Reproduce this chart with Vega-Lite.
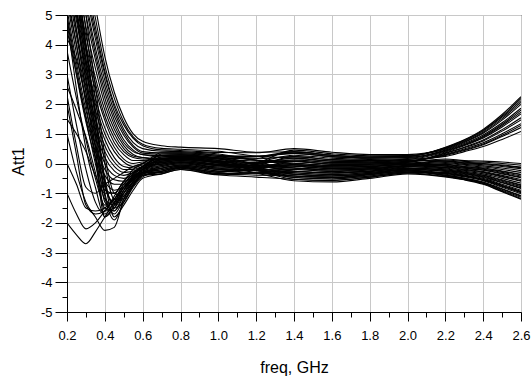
{
"$schema":"https://vega.github.io/schema/vega-lite/v6.json",
"width":454,"height":297,
"autosize":{"type":"none"},
"padding":{"left":67,"top":15,"right":10,"bottom":68},
"background":"white",
"config":{"view":{"stroke":"black","strokeWidth":1},"font":"Liberation Sans"},
"data":{"values":[
{"c":"A1","f":0.2,"v":12},{"c":"A1","f":0.25,"v":9.5},{"c":"A1","f":0.3,"v":7.2},{"c":"A1","f":0.35,"v":5.3},{"c":"A1","f":0.4,"v":3.6},{"c":"A1","f":0.45,"v":2.4},{"c":"A1","f":0.5,"v":1.55},{"c":"A1","f":0.55,"v":1.0},{"c":"A1","f":0.6,"v":0.75},{"c":"A1","f":0.7,"v":0.6},{"c":"A1","f":0.8,"v":0.55},{"c":"A1","f":1.0,"v":0.5},{"c":"A1","f":1.2,"v":0.38},{"c":"A1","f":1.4,"v":0.39},{"c":"A1","f":1.6,"v":0.28},{"c":"A1","f":1.8,"v":0.22},{"c":"A1","f":2.0,"v":0.24},{"c":"A1","f":2.2,"v":0.55},{"c":"A1","f":2.3,"v":0.8},{"c":"A1","f":2.4,"v":1.15},{"c":"A1","f":2.5,"v":1.65},{"c":"A1","f":2.6,"v":2.25},
{"c":"A2","f":0.2,"v":11},{"c":"A2","f":0.25,"v":8.8},{"c":"A2","f":0.3,"v":6.6},{"c":"A2","f":0.35,"v":4.9},{"c":"A2","f":0.4,"v":3.3},{"c":"A2","f":0.45,"v":2.2},{"c":"A2","f":0.5,"v":1.4},{"c":"A2","f":0.55,"v":0.9},{"c":"A2","f":0.6,"v":0.65},{"c":"A2","f":0.7,"v":0.51},{"c":"A2","f":0.8,"v":0.48},{"c":"A2","f":1.0,"v":0.41},{"c":"A2","f":1.2,"v":0.25},{"c":"A2","f":1.4,"v":0.18},{"c":"A2","f":1.6,"v":0.08},{"c":"A2","f":1.8,"v":0.06},{"c":"A2","f":2.0,"v":0.11},{"c":"A2","f":2.2,"v":0.09},{"c":"A2","f":2.3,"v":0.04},{"c":"A2","f":2.4,"v":0.0},{"c":"A2","f":2.5,"v":-0.05},{"c":"A2","f":2.6,"v":-0.12},
{"c":"A3","f":0.2,"v":11},{"c":"A3","f":0.25,"v":8.5},{"c":"A3","f":0.3,"v":6.3},{"c":"A3","f":0.35,"v":4.6},{"c":"A3","f":0.4,"v":3.1},{"c":"A3","f":0.45,"v":2.0},{"c":"A3","f":0.5,"v":1.3},{"c":"A3","f":0.55,"v":0.85},{"c":"A3","f":0.6,"v":0.6},{"c":"A3","f":0.7,"v":0.46},{"c":"A3","f":0.8,"v":0.44},{"c":"A3","f":1.0,"v":0.37},{"c":"A3","f":1.2,"v":0.36},{"c":"A3","f":1.4,"v":0.5},{"c":"A3","f":1.6,"v":0.38},{"c":"A3","f":1.8,"v":0.3},{"c":"A3","f":2.0,"v":0.3},{"c":"A3","f":2.2,"v":0.5},{"c":"A3","f":2.3,"v":0.73},{"c":"A3","f":2.4,"v":1.05},{"c":"A3","f":2.5,"v":1.51},{"c":"A3","f":2.6,"v":2.06},
{"c":"A4","f":0.2,"v":10},{"c":"A4","f":0.25,"v":8},{"c":"A4","f":0.3,"v":6},{"c":"A4","f":0.35,"v":4.4},{"c":"A4","f":0.4,"v":3.0},{"c":"A4","f":0.45,"v":1.9},{"c":"A4","f":0.5,"v":1.15},{"c":"A4","f":0.55,"v":0.7},{"c":"A4","f":0.6,"v":0.5},{"c":"A4","f":0.7,"v":0.41},{"c":"A4","f":0.8,"v":0.4},{"c":"A4","f":1.0,"v":0.32},{"c":"A4","f":1.2,"v":0.11},{"c":"A4","f":1.4,"v":-0.04},{"c":"A4","f":1.6,"v":-0.12},{"c":"A4","f":1.8,"v":-0.1},{"c":"A4","f":2.0,"v":-0.03},{"c":"A4","f":2.2,"v":-0.09},{"c":"A4","f":2.3,"v":-0.16},{"c":"A4","f":2.4,"v":-0.23},{"c":"A4","f":2.5,"v":-0.35},{"c":"A4","f":2.6,"v":-0.48},
{"c":"A5","f":0.2,"v":10},{"c":"A5","f":0.25,"v":7.8},{"c":"A5","f":0.3,"v":5.8},{"c":"A5","f":0.35,"v":4.2},{"c":"A5","f":0.4,"v":2.8},{"c":"A5","f":0.45,"v":1.75},{"c":"A5","f":0.5,"v":1.05},{"c":"A5","f":0.55,"v":0.6},{"c":"A5","f":0.6,"v":0.4},{"c":"A5","f":0.7,"v":0.36},{"c":"A5","f":0.8,"v":0.36},{"c":"A5","f":1.0,"v":0.28},{"c":"A5","f":1.2,"v":0.25},{"c":"A5","f":1.4,"v":0.34},{"c":"A5","f":1.6,"v":0.23},{"c":"A5","f":1.8,"v":0.18},{"c":"A5","f":2.0,"v":0.2},{"c":"A5","f":2.2,"v":0.45},{"c":"A5","f":2.3,"v":0.67},{"c":"A5","f":2.4,"v":0.96},{"c":"A5","f":2.5,"v":1.37},{"c":"A5","f":2.6,"v":1.86},
{"c":"A6","f":0.2,"v":9.5},{"c":"A6","f":0.25,"v":7.4},{"c":"A6","f":0.3,"v":5.5},{"c":"A6","f":0.35,"v":3.9},{"c":"A6","f":0.4,"v":2.6},{"c":"A6","f":0.45,"v":1.6},{"c":"A6","f":0.5,"v":0.95},{"c":"A6","f":0.55,"v":0.55},{"c":"A6","f":0.6,"v":0.35},{"c":"A6","f":0.7,"v":0.32},{"c":"A6","f":0.8,"v":0.33},{"c":"A6","f":1.0,"v":0.24},{"c":"A6","f":1.2,"v":-0.03},{"c":"A6","f":1.4,"v":-0.26},{"c":"A6","f":1.6,"v":-0.32},{"c":"A6","f":1.8,"v":-0.26},{"c":"A6","f":2.0,"v":-0.16},{"c":"A6","f":2.2,"v":-0.21},{"c":"A6","f":2.3,"v":-0.29},{"c":"A6","f":2.4,"v":-0.39},{"c":"A6","f":2.5,"v":-0.55},{"c":"A6","f":2.6,"v":-0.72},
{"c":"A7","f":0.2,"v":9},{"c":"A7","f":0.25,"v":7.1},{"c":"A7","f":0.3,"v":5.3},{"c":"A7","f":0.35,"v":3.7},{"c":"A7","f":0.4,"v":2.4},{"c":"A7","f":0.45,"v":1.45},{"c":"A7","f":0.5,"v":0.8},{"c":"A7","f":0.55,"v":0.45},{"c":"A7","f":0.6,"v":0.3},{"c":"A7","f":0.7,"v":0.27},{"c":"A7","f":0.8,"v":0.29},{"c":"A7","f":1.0,"v":0.19},{"c":"A7","f":1.2,"v":0.16},{"c":"A7","f":1.4,"v":0.23},{"c":"A7","f":1.6,"v":0.13},{"c":"A7","f":1.8,"v":0.1},{"c":"A7","f":2.0,"v":0.14},{"c":"A7","f":2.2,"v":0.39},{"c":"A7","f":2.3,"v":0.6},{"c":"A7","f":2.4,"v":0.86},{"c":"A7","f":2.5,"v":1.23},{"c":"A7","f":2.6,"v":1.67},
{"c":"A8","f":0.2,"v":9},{"c":"A8","f":0.25,"v":6.8},{"c":"A8","f":0.3,"v":5.0},{"c":"A8","f":0.35,"v":3.5},{"c":"A8","f":0.4,"v":2.2},{"c":"A8","f":0.45,"v":1.3},{"c":"A8","f":0.5,"v":0.7},{"c":"A8","f":0.55,"v":0.4},{"c":"A8","f":0.6,"v":0.3},{"c":"A8","f":0.7,"v":0.22},{"c":"A8","f":0.8,"v":0.25},{"c":"A8","f":1.0,"v":0.15},{"c":"A8","f":1.2,"v":-0.12},{"c":"A8","f":1.4,"v":-0.36},{"c":"A8","f":1.6,"v":-0.42},{"c":"A8","f":1.8,"v":-0.34},{"c":"A8","f":2.0,"v":-0.22},{"c":"A8","f":2.2,"v":-0.33},{"c":"A8","f":2.3,"v":-0.42},{"c":"A8","f":2.4,"v":-0.54},{"c":"A8","f":2.5,"v":-0.75},{"c":"A8","f":2.6,"v":-0.96},
{"c":"A9","f":0.2,"v":8.5},{"c":"A9","f":0.25,"v":6.4},{"c":"A9","f":0.3,"v":4.6},{"c":"A9","f":0.35,"v":3.2},{"c":"A9","f":0.4,"v":2.0},{"c":"A9","f":0.45,"v":1.15},{"c":"A9","f":0.5,"v":0.6},{"c":"A9","f":0.55,"v":0.3},{"c":"A9","f":0.6,"v":0.2},{"c":"A9","f":0.7,"v":0.17},{"c":"A9","f":0.8,"v":0.21},{"c":"A9","f":1.0,"v":0.1},{"c":"A9","f":1.2,"v":0.04},{"c":"A9","f":1.4,"v":0.07},{"c":"A9","f":1.6,"v":-0.02},{"c":"A9","f":1.8,"v":-0.02},{"c":"A9","f":2.0,"v":0.04},{"c":"A9","f":2.2,"v":0.15},{"c":"A9","f":2.3,"v":0.1},{"c":"A9","f":2.4,"v":0.08},{"c":"A9","f":2.5,"v":0.05},{"c":"A9","f":2.6,"v":0.0},
{"c":"A10","f":0.2,"v":8},{"c":"A10","f":0.25,"v":6},{"c":"A10","f":0.3,"v":4.3},{"c":"A10","f":0.35,"v":2.9},{"c":"A10","f":0.4,"v":1.8},{"c":"A10","f":0.45,"v":1.0},{"c":"A10","f":0.5,"v":0.5},{"c":"A10","f":0.55,"v":0.25},{"c":"A10","f":0.6,"v":0.2},{"c":"A10","f":0.7,"v":0.13},{"c":"A10","f":0.8,"v":0.18},{"c":"A10","f":1.0,"v":0.06},{"c":"A10","f":1.2,"v":0.16},{"c":"A10","f":1.4,"v":0.39},{"c":"A10","f":1.6,"v":0.28},{"c":"A10","f":1.8,"v":0.22},{"c":"A10","f":2.0,"v":0.24},{"c":"A10","f":2.2,"v":0.52},{"c":"A10","f":2.3,"v":0.76},{"c":"A10","f":2.4,"v":1.09},{"c":"A10","f":2.5,"v":1.56},{"c":"A10","f":2.6,"v":2.12},
{"c":"A11","f":0.2,"v":8},{"c":"A11","f":0.25,"v":5.8},{"c":"A11","f":0.3,"v":4.0},{"c":"A11","f":0.35,"v":2.7},{"c":"A11","f":0.4,"v":1.6},{"c":"A11","f":0.45,"v":0.85},{"c":"A11","f":0.5,"v":0.4},{"c":"A11","f":0.55,"v":0.2},{"c":"A11","f":0.6,"v":0.15},{"c":"A11","f":0.7,"v":0.13},{"c":"A11","f":0.8,"v":0.18},{"c":"A11","f":1.0,"v":0.06},{"c":"A11","f":1.2,"v":-0.07},{"c":"A11","f":1.4,"v":-0.15},{"c":"A11","f":1.6,"v":-0.22},{"c":"A11","f":1.8,"v":-0.18},{"c":"A11","f":2.0,"v":-0.09},{"c":"A11","f":2.2,"v":-0.03},{"c":"A11","f":2.3,"v":-0.1},{"c":"A11","f":2.4,"v":-0.15},{"c":"A11","f":2.5,"v":-0.25},{"c":"A11","f":2.6,"v":-0.36},
{"c":"A12","f":0.2,"v":7.5},{"c":"A12","f":0.25,"v":5.5},{"c":"A12","f":0.3,"v":3.8},{"c":"A12","f":0.35,"v":2.5},{"c":"A12","f":0.4,"v":1.45},{"c":"A12","f":0.45,"v":0.7},{"c":"A12","f":0.5,"v":0.3},{"c":"A12","f":0.55,"v":0.1},{"c":"A12","f":0.6,"v":0.1},{"c":"A12","f":0.7,"v":0.08},{"c":"A12","f":0.8,"v":0.14},{"c":"A12","f":1.0,"v":0.02},{"c":"A12","f":1.2,"v":-0.23},{"c":"A12","f":1.4,"v":-0.47},{"c":"A12","f":1.6,"v":-0.52},{"c":"A12","f":1.8,"v":-0.42},{"c":"A12","f":2.0,"v":-0.29},{"c":"A12","f":2.2,"v":-0.39},{"c":"A12","f":2.3,"v":-0.49},{"c":"A12","f":2.4,"v":-0.62},{"c":"A12","f":2.5,"v":-0.85},{"c":"A12","f":2.6,"v":-1.08},
{"c":"A13","f":0.2,"v":7},{"c":"A13","f":0.25,"v":5.2},{"c":"A13","f":0.3,"v":3.5},{"c":"A13","f":0.35,"v":2.2},{"c":"A13","f":0.4,"v":1.2},{"c":"A13","f":0.45,"v":0.55},{"c":"A13","f":0.5,"v":0.15},{"c":"A13","f":0.55,"v":0.0},{"c":"A13","f":0.6,"v":0.05},{"c":"A13","f":0.7,"v":0.03},{"c":"A13","f":0.8,"v":0.1},{"c":"A13","f":1.0,"v":-0.03},{"c":"A13","f":1.2,"v":0.0},{"c":"A13","f":1.4,"v":0.12},{"c":"A13","f":1.6,"v":0.03},{"c":"A13","f":1.8,"v":0.02},{"c":"A13","f":2.0,"v":0.07},{"c":"A13","f":2.2,"v":0.31},{"c":"A13","f":2.3,"v":0.49},{"c":"A13","f":2.4,"v":0.7},{"c":"A13","f":2.5,"v":1.0},{"c":"A13","f":2.6,"v":1.34},
{"c":"A14","f":0.2,"v":7},{"c":"A14","f":0.25,"v":5.0},{"c":"A14","f":0.3,"v":3.3},{"c":"A14","f":0.35,"v":2.0},{"c":"A14","f":0.4,"v":1.0},{"c":"A14","f":0.45,"v":0.4},{"c":"A14","f":0.5,"v":0.05},{"c":"A14","f":0.55,"v":-0.1},{"c":"A14","f":0.6,"v":0.0},{"c":"A14","f":0.7,"v":0.03},{"c":"A14","f":0.8,"v":0.1},{"c":"A14","f":1.0,"v":-0.03},{"c":"A14","f":1.2,"v":-0.07},{"c":"A14","f":1.4,"v":-0.04},{"c":"A14","f":1.6,"v":-0.12},{"c":"A14","f":1.8,"v":-0.1},{"c":"A14","f":2.0,"v":-0.03},{"c":"A14","f":2.2,"v":-0.15},{"c":"A14","f":2.3,"v":-0.23},{"c":"A14","f":2.4,"v":-0.31},{"c":"A14","f":2.5,"v":-0.45},{"c":"A14","f":2.6,"v":-0.6},
{"c":"A15","f":0.2,"v":6.5},{"c":"A15","f":0.25,"v":4.8},{"c":"A15","f":0.3,"v":3.1},{"c":"A15","f":0.35,"v":1.8},{"c":"A15","f":0.4,"v":0.8},{"c":"A15","f":0.45,"v":0.2},{"c":"A15","f":0.5,"v":-0.1},{"c":"A15","f":0.55,"v":-0.15},{"c":"A15","f":0.6,"v":-0.05},{"c":"A15","f":0.7,"v":-0.02},{"c":"A15","f":0.8,"v":0.06},{"c":"A15","f":1.0,"v":-0.07},{"c":"A15","f":1.2,"v":0.04},{"c":"A15","f":1.4,"v":0.28},{"c":"A15","f":1.6,"v":0.18},{"c":"A15","f":1.8,"v":0.14},{"c":"A15","f":2.0,"v":0.17},{"c":"A15","f":2.2,"v":0.41},{"c":"A15","f":2.3,"v":0.62},{"c":"A15","f":2.4,"v":0.89},{"c":"A15","f":2.5,"v":1.28},{"c":"A15","f":2.6,"v":1.73},
{"c":"A16","f":0.2,"v":6.2},{"c":"A16","f":0.25,"v":4.5},{"c":"A16","f":0.3,"v":2.8},{"c":"A16","f":0.35,"v":1.5},{"c":"A16","f":0.4,"v":0.6},{"c":"A16","f":0.45,"v":0.05},{"c":"A16","f":0.5,"v":-0.2},{"c":"A16","f":0.55,"v":-0.2},{"c":"A16","f":0.6,"v":-0.1},{"c":"A16","f":0.7,"v":-0.02},{"c":"A16","f":0.8,"v":0.06},{"c":"A16","f":1.0,"v":-0.07},{"c":"A16","f":1.2,"v":-0.32},{"c":"A16","f":1.4,"v":-0.58},{"c":"A16","f":1.6,"v":-0.62},{"c":"A16","f":1.8,"v":-0.5},{"c":"A16","f":2.0,"v":-0.35},{"c":"A16","f":2.2,"v":-0.45},{"c":"A16","f":2.3,"v":-0.55},{"c":"A16","f":2.4,"v":-0.7},{"c":"A16","f":2.5,"v":-0.95},{"c":"A16","f":2.6,"v":-1.2},
{"c":"A17","f":0.2,"v":6},{"c":"A17","f":0.25,"v":4.3},{"c":"A17","f":0.3,"v":2.6},{"c":"A17","f":0.35,"v":1.3},{"c":"A17","f":0.4,"v":0.4},{"c":"A17","f":0.45,"v":-0.1},{"c":"A17","f":0.5,"v":-0.3},{"c":"A17","f":0.55,"v":-0.25},{"c":"A17","f":0.6,"v":-0.15},{"c":"A17","f":0.7,"v":-0.07},{"c":"A17","f":0.8,"v":0.03},{"c":"A17","f":1.0,"v":-0.12},{"c":"A17","f":1.2,"v":-0.14},{"c":"A17","f":1.4,"v":-0.09},{"c":"A17","f":1.6,"v":-0.17},{"c":"A17","f":1.8,"v":-0.14},{"c":"A17","f":2.0,"v":-0.06},{"c":"A17","f":2.2,"v":0.03},{"c":"A17","f":2.3,"v":-0.03},{"c":"A17","f":2.4,"v":-0.08},{"c":"A17","f":2.5,"v":-0.15},{"c":"A17","f":2.6,"v":-0.24},
{"c":"A18","f":0.2,"v":5.8},{"c":"A18","f":0.25,"v":4.0},{"c":"A18","f":0.3,"v":2.4},{"c":"A18","f":0.35,"v":1.1},{"c":"A18","f":0.4,"v":0.2},{"c":"A18","f":0.45,"v":-0.25},{"c":"A18","f":0.5,"v":-0.4},{"c":"A18","f":0.55,"v":-0.3},{"c":"A18","f":0.6,"v":-0.2},{"c":"A18","f":0.7,"v":-0.07},{"c":"A18","f":0.8,"v":0.03},{"c":"A18","f":1.0,"v":-0.12},{"c":"A18","f":1.2,"v":-0.03},{"c":"A18","f":1.4,"v":0.18},{"c":"A18","f":1.6,"v":0.08},{"c":"A18","f":1.8,"v":0.06},{"c":"A18","f":2.0,"v":0.1},{"c":"A18","f":2.2,"v":0.27},{"c":"A18","f":2.3,"v":0.44},{"c":"A18","f":2.4,"v":0.63},{"c":"A18","f":2.5,"v":0.91},{"c":"A18","f":2.6,"v":1.21},
{"c":"A19","f":0.2,"v":5.5},{"c":"A19","f":0.25,"v":3.7},{"c":"A19","f":0.3,"v":2.1},{"c":"A19","f":0.35,"v":0.9},{"c":"A19","f":0.4,"v":0.0},{"c":"A19","f":0.45,"v":-0.4},{"c":"A19","f":0.5,"v":-0.5},{"c":"A19","f":0.55,"v":-0.4},{"c":"A19","f":0.6,"v":-0.25},{"c":"A19","f":0.7,"v":-0.11},{"c":"A19","f":0.8,"v":-0.01},{"c":"A19","f":1.0,"v":-0.16},{"c":"A19","f":1.2,"v":-0.25},{"c":"A19","f":1.4,"v":-0.31},{"c":"A19","f":1.6,"v":-0.37},{"c":"A19","f":1.8,"v":-0.3},{"c":"A19","f":2.0,"v":-0.19},{"c":"A19","f":2.2,"v":-0.27},{"c":"A19","f":2.3,"v":-0.36},{"c":"A19","f":2.4,"v":-0.47},{"c":"A19","f":2.5,"v":-0.65},{"c":"A19","f":2.6,"v":-0.84},
{"c":"A20","f":0.2,"v":5.2},{"c":"A20","f":0.25,"v":3.4},{"c":"A20","f":0.3,"v":1.8},{"c":"A20","f":0.35,"v":0.6},{"c":"A20","f":0.4,"v":-0.2},{"c":"A20","f":0.45,"v":-0.55},{"c":"A20","f":0.5,"v":-0.6},{"c":"A20","f":0.55,"v":-0.45},{"c":"A20","f":0.6,"v":-0.3},{"c":"A20","f":0.7,"v":-0.11},{"c":"A20","f":0.8,"v":-0.01},{"c":"A20","f":1.0,"v":-0.16},{"c":"A20","f":1.2,"v":-0.12},{"c":"A20","f":1.4,"v":0.01},{"c":"A20","f":1.6,"v":-0.07},{"c":"A20","f":1.8,"v":-0.06},{"c":"A20","f":2.0,"v":0.01},{"c":"A20","f":2.2,"v":-0.06},{"c":"A20","f":2.3,"v":-0.13},{"c":"A20","f":2.4,"v":-0.19},{"c":"A20","f":2.5,"v":-0.3},{"c":"A20","f":2.6,"v":-0.42},
{"c":"A21","f":0.2,"v":5.0},{"c":"A21","f":0.25,"v":3.2},{"c":"A21","f":0.3,"v":1.6},{"c":"A21","f":0.35,"v":0.4},{"c":"A21","f":0.4,"v":-0.4},{"c":"A21","f":0.45,"v":-0.7},{"c":"A21","f":0.5,"v":-0.7},{"c":"A21","f":0.55,"v":-0.5},{"c":"A21","f":0.6,"v":-0.3},{"c":"A21","f":0.7,"v":-0.16},{"c":"A21","f":0.8,"v":-0.05},{"c":"A21","f":1.0,"v":-0.2},{"c":"A21","f":1.2,"v":-0.23},{"c":"A21","f":1.4,"v":-0.2},{"c":"A21","f":1.6,"v":-0.27},{"c":"A21","f":1.8,"v":-0.22},{"c":"A21","f":2.0,"v":-0.12},{"c":"A21","f":2.2,"v":-0.18},{"c":"A21","f":2.3,"v":-0.26},{"c":"A21","f":2.4,"v":-0.35},{"c":"A21","f":2.5,"v":-0.5},{"c":"A21","f":2.6,"v":-0.66},
{"c":"A22","f":0.2,"v":4.9},{"c":"A22","f":0.25,"v":3.0},{"c":"A22","f":0.3,"v":1.4},{"c":"A22","f":0.35,"v":0.2},{"c":"A22","f":0.4,"v":-0.6},{"c":"A22","f":0.45,"v":-0.9},{"c":"A22","f":0.5,"v":-0.8},{"c":"A22","f":0.55,"v":-0.55},{"c":"A22","f":0.6,"v":-0.35},{"c":"A22","f":0.7,"v":-0.16},{"c":"A22","f":0.8,"v":-0.05},{"c":"A22","f":1.0,"v":-0.2},{"c":"A22","f":1.2,"v":-0.32},{"c":"A22","f":1.4,"v":-0.42},{"c":"A22","f":1.6,"v":-0.47},{"c":"A22","f":1.8,"v":-0.38},{"c":"A22","f":2.0,"v":-0.25},{"c":"A22","f":2.2,"v":-0.36},{"c":"A22","f":2.3,"v":-0.45},{"c":"A22","f":2.4,"v":-0.58},{"c":"A22","f":2.5,"v":-0.8},{"c":"A22","f":2.6,"v":-1.02},
{"c":"C1","f":0.2,"v":9},{"c":"C1","f":0.25,"v":6.5},{"c":"C1","f":0.3,"v":4.0},{"c":"C1","f":0.35,"v":1.8},{"c":"C1","f":0.4,"v":-0.5},{"c":"C1","f":0.45,"v":-1.5},{"c":"C1","f":0.5,"v":-1.3},{"c":"C1","f":0.55,"v":-0.8},{"c":"C1","f":0.6,"v":-0.45},{"c":"C1","f":0.7,"v":-0.26},{"c":"C1","f":0.8,"v":-0.13},{"c":"C1","f":1.0,"v":-0.29},{"c":"C1","f":1.2,"v":-0.16},{"c":"C1","f":1.4,"v":0.07},{"c":"C1","f":1.6,"v":-0.02},{"c":"C1","f":1.8,"v":-0.02},{"c":"C1","f":2.0,"v":0.04},{"c":"C1","f":2.2,"v":0.36},{"c":"C1","f":2.3,"v":0.55},{"c":"C1","f":2.4,"v":0.79},{"c":"C1","f":2.5,"v":1.14},{"c":"C1","f":2.6,"v":1.54},
{"c":"C2","f":0.2,"v":8},{"c":"C2","f":0.25,"v":5.8},{"c":"C2","f":0.3,"v":3.5},{"c":"C2","f":0.35,"v":1.2},{"c":"C2","f":0.4,"v":-1.0},{"c":"C2","f":0.45,"v":-1.7},{"c":"C2","f":0.5,"v":-1.2},{"c":"C2","f":0.55,"v":-0.7},{"c":"C2","f":0.6,"v":-0.4},{"c":"C2","f":0.7,"v":-0.3},{"c":"C2","f":0.8,"v":-0.16},{"c":"C2","f":1.0,"v":-0.34},{"c":"C2","f":1.2,"v":-0.32},{"c":"C2","f":1.4,"v":-0.26},{"c":"C2","f":1.6,"v":-0.32},{"c":"C2","f":1.8,"v":-0.26},{"c":"C2","f":2.0,"v":-0.16},{"c":"C2","f":2.2,"v":-0.24},{"c":"C2","f":2.3,"v":-0.32},{"c":"C2","f":2.4,"v":-0.43},{"c":"C2","f":2.5,"v":-0.6},{"c":"C2","f":2.6,"v":-0.78},
{"c":"C3","f":0.2,"v":7.5},{"c":"C3","f":0.25,"v":5.2},{"c":"C3","f":0.3,"v":3.0},{"c":"C3","f":0.35,"v":0.8},{"c":"C3","f":0.4,"v":-1.3},{"c":"C3","f":0.45,"v":-1.6},{"c":"C3","f":0.5,"v":-1.1},{"c":"C3","f":0.55,"v":-0.65},{"c":"C3","f":0.6,"v":-0.35},{"c":"C3","f":0.7,"v":-0.21},{"c":"C3","f":0.8,"v":-0.09},{"c":"C3","f":1.0,"v":-0.25},{"c":"C3","f":1.2,"v":-0.32},{"c":"C3","f":1.4,"v":-0.36},{"c":"C3","f":1.6,"v":-0.42},{"c":"C3","f":1.8,"v":-0.34},{"c":"C3","f":2.0,"v":-0.22},{"c":"C3","f":2.2,"v":-0.42},{"c":"C3","f":2.3,"v":-0.52},{"c":"C3","f":2.4,"v":-0.66},{"c":"C3","f":2.5,"v":-0.9},{"c":"C3","f":2.6,"v":-1.14},
{"c":"C4","f":0.2,"v":8.5},{"c":"C4","f":0.25,"v":6.2},{"c":"C4","f":0.3,"v":4.0},{"c":"C4","f":0.35,"v":1.6},{"c":"C4","f":0.4,"v":-0.6},{"c":"C4","f":0.45,"v":-1.8},{"c":"C4","f":0.5,"v":-1.4},{"c":"C4","f":0.55,"v":-0.9},{"c":"C4","f":0.6,"v":-0.5},{"c":"C4","f":0.7,"v":-0.35},{"c":"C4","f":0.8,"v":-0.2},{"c":"C4","f":1.0,"v":-0.38},{"c":"C4","f":1.2,"v":-0.46},{"c":"C4","f":1.4,"v":-0.53},{"c":"C4","f":1.6,"v":-0.57},{"c":"C4","f":1.8,"v":-0.46},{"c":"C4","f":2.0,"v":-0.32},{"c":"C4","f":2.2,"v":-0.3},{"c":"C4","f":2.3,"v":-0.39},{"c":"C4","f":2.4,"v":-0.5},{"c":"C4","f":2.5,"v":-0.7},{"c":"C4","f":2.6,"v":-0.9},
{"c":"C5","f":0.2,"v":7},{"c":"C5","f":0.25,"v":5.0},{"c":"C5","f":0.3,"v":2.8},{"c":"C5","f":0.35,"v":0.5},{"c":"C5","f":0.4,"v":-1.6},{"c":"C5","f":0.45,"v":-1.5},{"c":"C5","f":0.5,"v":-1.0},{"c":"C5","f":0.55,"v":-0.6},{"c":"C5","f":0.6,"v":-0.3},{"c":"C5","f":0.7,"v":-0.21},{"c":"C5","f":0.8,"v":-0.09},{"c":"C5","f":1.0,"v":-0.25},{"c":"C5","f":1.2,"v":-0.18},{"c":"C5","f":1.4,"v":-0.04},{"c":"C5","f":1.6,"v":-0.12},{"c":"C5","f":1.8,"v":-0.1},{"c":"C5","f":2.0,"v":-0.03},{"c":"C5","f":2.2,"v":0.06},{"c":"C5","f":2.3,"v":0.0},{"c":"C5","f":2.4,"v":-0.04},{"c":"C5","f":2.5,"v":-0.1},{"c":"C5","f":2.6,"v":-0.18},
{"c":"C6","f":0.2,"v":9.5},{"c":"C6","f":0.25,"v":7.0},{"c":"C6","f":0.3,"v":4.5},{"c":"C6","f":0.35,"v":2.2},{"c":"C6","f":0.4,"v":0.0},{"c":"C6","f":0.45,"v":-1.2},{"c":"C6","f":0.5,"v":-1.2},{"c":"C6","f":0.55,"v":-0.75},{"c":"C6","f":0.6,"v":-0.4},{"c":"C6","f":0.7,"v":-0.26},{"c":"C6","f":0.8,"v":-0.13},{"c":"C6","f":1.0,"v":-0.29},{"c":"C6","f":1.2,"v":0.0},{"c":"C6","f":1.4,"v":0.45},{"c":"C6","f":1.6,"v":0.33},{"c":"C6","f":1.8,"v":0.26},{"c":"C6","f":2.0,"v":0.27},{"c":"C6","f":2.2,"v":0.48},{"c":"C6","f":2.3,"v":0.71},{"c":"C6","f":2.4,"v":1.02},{"c":"C6","f":2.5,"v":1.46},{"c":"C6","f":2.6,"v":1.99},
{"c":"C7","f":0.2,"v":6.5},{"c":"C7","f":0.25,"v":4.5},{"c":"C7","f":0.3,"v":2.4},{"c":"C7","f":0.35,"v":0.2},{"c":"C7","f":0.4,"v":-1.8},{"c":"C7","f":0.45,"v":-1.4},{"c":"C7","f":0.5,"v":-0.9},{"c":"C7","f":0.55,"v":-0.55},{"c":"C7","f":0.6,"v":-0.3},{"c":"C7","f":0.7,"v":-0.16},{"c":"C7","f":0.8,"v":-0.05},{"c":"C7","f":1.0,"v":-0.2},{"c":"C7","f":1.2,"v":-0.21},{"c":"C7","f":1.4,"v":-0.15},{"c":"C7","f":1.6,"v":-0.22},{"c":"C7","f":1.8,"v":-0.18},{"c":"C7","f":2.0,"v":-0.09},{"c":"C7","f":2.2,"v":-0.12},{"c":"C7","f":2.3,"v":-0.19},{"c":"C7","f":2.4,"v":-0.27},{"c":"C7","f":2.5,"v":-0.4},{"c":"C7","f":2.6,"v":-0.54},
{"c":"C8","f":0.2,"v":8},{"c":"C8","f":0.25,"v":6.0},{"c":"C8","f":0.3,"v":3.8},{"c":"C8","f":0.35,"v":1.5},{"c":"C8","f":0.4,"v":-0.7},{"c":"C8","f":0.45,"v":-1.35},{"c":"C8","f":0.5,"v":-1.0},{"c":"C8","f":0.55,"v":-0.6},{"c":"C8","f":0.6,"v":-0.3},{"c":"C8","f":0.7,"v":-0.3},{"c":"C8","f":0.8,"v":-0.16},{"c":"C8","f":1.0,"v":-0.34},{"c":"C8","f":1.2,"v":-0.39},{"c":"C8","f":1.4,"v":-0.42},{"c":"C8","f":1.6,"v":-0.47},{"c":"C8","f":1.8,"v":-0.38},{"c":"C8","f":2.0,"v":-0.25},{"c":"C8","f":2.2,"v":-0.4},{"c":"C8","f":2.3,"v":-0.5},{"c":"C8","f":2.4,"v":-0.64},{"c":"C8","f":2.5,"v":-0.87},{"c":"C8","f":2.6,"v":-1.1},
{"c":"C9","f":0.2,"v":10},{"c":"C9","f":0.25,"v":7.5},{"c":"C9","f":0.3,"v":5.0},{"c":"C9","f":0.35,"v":2.6},{"c":"C9","f":0.4,"v":0.3},{"c":"C9","f":0.45,"v":-1.0},{"c":"C9","f":0.5,"v":-1.1},{"c":"C9","f":0.55,"v":-0.7},{"c":"C9","f":0.6,"v":-0.35},{"c":"C9","f":0.7,"v":-0.26},{"c":"C9","f":0.8,"v":-0.13},{"c":"C9","f":1.0,"v":-0.29},{"c":"C9","f":1.2,"v":-0.09},{"c":"C9","f":1.4,"v":0.23},{"c":"C9","f":1.6,"v":0.13},{"c":"C9","f":1.8,"v":0.1},{"c":"C9","f":2.0,"v":0.14},{"c":"C9","f":2.2,"v":0.24},{"c":"C9","f":2.3,"v":0.4},{"c":"C9","f":2.4,"v":0.57},{"c":"C9","f":2.5,"v":0.81},{"c":"C9","f":2.6,"v":1.08},
{"c":"C10","f":0.2,"v":7},{"c":"C10","f":0.25,"v":5.5},{"c":"C10","f":0.3,"v":3.3},{"c":"C10","f":0.35,"v":1.0},{"c":"C10","f":0.4,"v":-1.1},{"c":"C10","f":0.45,"v":-1.9},{"c":"C10","f":0.5,"v":-1.3},{"c":"C10","f":0.55,"v":-0.75},{"c":"C10","f":0.6,"v":-0.4},{"c":"C10","f":0.7,"v":-0.35},{"c":"C10","f":0.8,"v":-0.2},{"c":"C10","f":1.0,"v":-0.38},{"c":"C10","f":1.2,"v":-0.32},{"c":"C10","f":1.4,"v":-0.2},{"c":"C10","f":1.6,"v":-0.27},{"c":"C10","f":1.8,"v":-0.22},{"c":"C10","f":2.0,"v":-0.12},{"c":"C10","f":2.2,"v":0.0},{"c":"C10","f":2.3,"v":-0.06},{"c":"C10","f":2.4,"v":-0.12},{"c":"C10","f":2.5,"v":-0.2},{"c":"C10","f":2.6,"v":-0.3},
{"c":"B1","f":0.2,"v":2.0},{"c":"B1","f":0.25,"v":0.3},{"c":"B1","f":0.3,"v":-1.4},{"c":"B1","f":0.35,"v":-1.7},{"c":"B1","f":0.4,"v":-1.6},{"c":"B1","f":0.45,"v":-1.1},{"c":"B1","f":0.5,"v":-0.6},{"c":"B1","f":0.55,"v":-0.3},{"c":"B1","f":0.6,"v":-0.1},{"c":"B1","f":0.7,"v":0.22},{"c":"B1","f":0.8,"v":0.25},{"c":"B1","f":1.0,"v":0.15},{"c":"B1","f":1.2,"v":0.0},{"c":"B1","f":1.4,"v":-0.09},{"c":"B1","f":1.6,"v":-0.17},{"c":"B1","f":1.8,"v":-0.14},{"c":"B1","f":2.0,"v":-0.06},{"c":"B1","f":2.2,"v":0.12},{"c":"B1","f":2.3,"v":0.07},{"c":"B1","f":2.4,"v":0.04},{"c":"B1","f":2.5,"v":0.0},{"c":"B1","f":2.6,"v":-0.06},
{"c":"B2","f":0.2,"v":-2.0},{"c":"B2","f":0.25,"v":-2.4},{"c":"B2","f":0.3,"v":-2.7},{"c":"B2","f":0.35,"v":-2.3},{"c":"B2","f":0.4,"v":-1.8},{"c":"B2","f":0.45,"v":-1.3},{"c":"B2","f":0.5,"v":-0.8},{"c":"B2","f":0.55,"v":-0.45},{"c":"B2","f":0.6,"v":-0.2},{"c":"B2","f":0.7,"v":0.03},{"c":"B2","f":0.8,"v":0.1},{"c":"B2","f":1.0,"v":-0.03},{"c":"B2","f":1.2,"v":-0.21},{"c":"B2","f":1.4,"v":-0.36},{"c":"B2","f":1.6,"v":-0.42},{"c":"B2","f":1.8,"v":-0.34},{"c":"B2","f":2.0,"v":-0.22},{"c":"B2","f":2.2,"v":-0.26},{"c":"B2","f":2.3,"v":-0.34},{"c":"B2","f":2.4,"v":-0.45},{"c":"B2","f":2.5,"v":-0.63},{"c":"B2","f":2.6,"v":-0.82},
{"c":"B3","f":0.2,"v":-1.0},{"c":"B3","f":0.25,"v":-1.7},{"c":"B3","f":0.3,"v":-2.2},{"c":"B3","f":0.35,"v":-2.0},{"c":"B3","f":0.4,"v":-1.6},{"c":"B3","f":0.45,"v":-1.2},{"c":"B3","f":0.5,"v":-0.8},{"c":"B3","f":0.55,"v":-0.5},{"c":"B3","f":0.6,"v":-0.25},{"c":"B3","f":0.7,"v":0.13},{"c":"B3","f":0.8,"v":0.18},{"c":"B3","f":1.0,"v":0.06},{"c":"B3","f":1.2,"v":0.02},{"c":"B3","f":1.4,"v":0.07},{"c":"B3","f":1.6,"v":-0.02},{"c":"B3","f":1.8,"v":-0.02},{"c":"B3","f":2.0,"v":0.04},{"c":"B3","f":2.2,"v":0.34},{"c":"B3","f":2.3,"v":0.53},{"c":"B3","f":2.4,"v":0.76},{"c":"B3","f":2.5,"v":1.09},{"c":"B3","f":2.6,"v":1.47},
{"c":"B4","f":0.2,"v":1.0},{"c":"B4","f":0.25,"v":-0.3},{"c":"B4","f":0.3,"v":-1.3},{"c":"B4","f":0.35,"v":-1.8},{"c":"B4","f":0.4,"v":-2.25},{"c":"B4","f":0.45,"v":-2.15},{"c":"B4","f":0.5,"v":-1.2},{"c":"B4","f":0.55,"v":-0.6},{"c":"B4","f":0.6,"v":-0.3},{"c":"B4","f":0.7,"v":0.08},{"c":"B4","f":0.8,"v":0.14},{"c":"B4","f":1.0,"v":0.02},{"c":"B4","f":1.2,"v":-0.16},{"c":"B4","f":1.4,"v":-0.31},{"c":"B4","f":1.6,"v":-0.37},{"c":"B4","f":1.8,"v":-0.3},{"c":"B4","f":2.0,"v":-0.19},{"c":"B4","f":2.2,"v":-0.14},{"c":"B4","f":2.3,"v":-0.21},{"c":"B4","f":2.4,"v":-0.29},{"c":"B4","f":2.5,"v":-0.43},{"c":"B4","f":2.6,"v":-0.58},
{"c":"B5","f":0.2,"v":4.8},{"c":"B5","f":0.25,"v":2.5},{"c":"B5","f":0.3,"v":0.5},{"c":"B5","f":0.35,"v":-0.8},{"c":"B5","f":0.4,"v":-1.8},{"c":"B5","f":0.45,"v":-1.5},{"c":"B5","f":0.5,"v":-0.9},{"c":"B5","f":0.55,"v":-0.5},{"c":"B5","f":0.6,"v":-0.2},{"c":"B5","f":0.7,"v":0.17},{"c":"B5","f":0.8,"v":0.21},{"c":"B5","f":1.0,"v":0.1},{"c":"B5","f":1.2,"v":-0.18},{"c":"B5","f":1.4,"v":-0.47},{"c":"B5","f":1.6,"v":-0.52},{"c":"B5","f":1.8,"v":-0.42},{"c":"B5","f":2.0,"v":-0.29},{"c":"B5","f":2.2,"v":-0.34},{"c":"B5","f":2.3,"v":-0.43},{"c":"B5","f":2.4,"v":-0.56},{"c":"B5","f":2.5,"v":-0.77},{"c":"B5","f":2.6,"v":-0.98},
{"c":"B6","f":0.2,"v":3.0},{"c":"B6","f":0.25,"v":1.3},{"c":"B6","f":0.3,"v":-0.2},{"c":"B6","f":0.35,"v":-1.3},{"c":"B6","f":0.4,"v":-1.7},{"c":"B6","f":0.45,"v":-1.3},{"c":"B6","f":0.5,"v":-0.8},{"c":"B6","f":0.55,"v":-0.45},{"c":"B6","f":0.6,"v":-0.2},{"c":"B6","f":0.7,"v":-0.02},{"c":"B6","f":0.8,"v":0.06},{"c":"B6","f":1.0,"v":-0.07},{"c":"B6","f":1.2,"v":-0.09},{"c":"B6","f":1.4,"v":-0.04},{"c":"B6","f":1.6,"v":-0.12},{"c":"B6","f":1.8,"v":-0.1},{"c":"B6","f":2.0,"v":-0.03},{"c":"B6","f":2.2,"v":-0.08},{"c":"B6","f":2.3,"v":-0.15},{"c":"B6","f":2.4,"v":-0.22},{"c":"B6","f":2.5,"v":-0.33},{"c":"B6","f":2.6,"v":-0.46},
{"c":"B7","f":0.2,"v":2.6},{"c":"B7","f":0.25,"v":1.8},{"c":"B7","f":0.3,"v":0.9},{"c":"B7","f":0.35,"v":-0.3},{"c":"B7","f":0.4,"v":-1.5},{"c":"B7","f":0.45,"v":-1.6},{"c":"B7","f":0.5,"v":-1.0},{"c":"B7","f":0.55,"v":-0.5},{"c":"B7","f":0.6,"v":-0.2},{"c":"B7","f":0.7,"v":0.32},{"c":"B7","f":0.8,"v":0.33},{"c":"B7","f":1.0,"v":0.24},{"c":"B7","f":1.2,"v":0.23},{"c":"B7","f":1.4,"v":0.34},{"c":"B7","f":1.6,"v":0.23},{"c":"B7","f":1.8,"v":0.18},{"c":"B7","f":2.0,"v":0.2},{"c":"B7","f":2.2,"v":0.43},{"c":"B7","f":2.3,"v":0.64},{"c":"B7","f":2.4,"v":0.92},{"c":"B7","f":2.5,"v":1.32},{"c":"B7","f":2.6,"v":1.8},
{"c":"B8","f":0.2,"v":0.0},{"c":"B8","f":0.25,"v":-0.7},{"c":"B8","f":0.3,"v":-1.5},{"c":"B8","f":0.35,"v":-1.6},{"c":"B8","f":0.4,"v":-1.5},{"c":"B8","f":0.45,"v":-1.2},{"c":"B8","f":0.5,"v":-0.7},{"c":"B8","f":0.55,"v":-0.35},{"c":"B8","f":0.6,"v":-0.1},{"c":"B8","f":0.7,"v":0.27},{"c":"B8","f":0.8,"v":0.29},{"c":"B8","f":1.0,"v":0.19},{"c":"B8","f":1.2,"v":-0.05},{"c":"B8","f":1.4,"v":-0.26},{"c":"B8","f":1.6,"v":-0.32},{"c":"B8","f":1.8,"v":-0.26},{"c":"B8","f":2.0,"v":-0.16},{"c":"B8","f":2.2,"v":-0.22},{"c":"B8","f":2.3,"v":-0.3},{"c":"B8","f":2.4,"v":-0.4},{"c":"B8","f":2.5,"v":-0.57},{"c":"B8","f":2.6,"v":-0.74},
{"c":"B9","f":0.2,"v":4.5},{"c":"B9","f":0.25,"v":3.0},{"c":"B9","f":0.3,"v":1.5},{"c":"B9","f":0.35,"v":0.0},{"c":"B9","f":0.4,"v":-1.2},{"c":"B9","f":0.45,"v":-1.4},{"c":"B9","f":0.5,"v":-0.9},{"c":"B9","f":0.55,"v":-0.4},{"c":"B9","f":0.6,"v":-0.15},{"c":"B9","f":0.7,"v":0.13},{"c":"B9","f":0.8,"v":0.18},{"c":"B9","f":1.0,"v":0.06},{"c":"B9","f":1.2,"v":-0.23},{"c":"B9","f":1.4,"v":-0.53},{"c":"B9","f":1.6,"v":-0.57},{"c":"B9","f":1.8,"v":-0.46},{"c":"B9","f":2.0,"v":-0.32},{"c":"B9","f":2.2,"v":-0.44},{"c":"B9","f":2.3,"v":-0.54},{"c":"B9","f":2.4,"v":-0.68},{"c":"B9","f":2.5,"v":-0.93},{"c":"B9","f":2.6,"v":-1.18},
{"c":"B10","f":0.2,"v":1.5},{"c":"B10","f":0.25,"v":1.0},{"c":"B10","f":0.3,"v":0.4},{"c":"B10","f":0.35,"v":-0.4},{"c":"B10","f":0.4,"v":-1.0},{"c":"B10","f":0.45,"v":-1.0},{"c":"B10","f":0.5,"v":-0.6},{"c":"B10","f":0.55,"v":-0.3},{"c":"B10","f":0.6,"v":-0.1},{"c":"B10","f":0.7,"v":0.22},{"c":"B10","f":0.8,"v":0.25},{"c":"B10","f":1.0,"v":0.15},{"c":"B10","f":1.2,"v":0.09},{"c":"B10","f":1.4,"v":0.12},{"c":"B10","f":1.6,"v":0.03},{"c":"B10","f":1.8,"v":0.02},{"c":"B10","f":2.0,"v":0.07},{"c":"B10","f":2.2,"v":0.29},{"c":"B10","f":2.3,"v":0.46},{"c":"B10","f":2.4,"v":0.66},{"c":"B10","f":2.5,"v":0.95},{"c":"B10","f":2.6,"v":1.28},
{"c":"B11","f":0.2,"v":3.8},{"c":"B11","f":0.25,"v":2.2},{"c":"B11","f":0.3,"v":0.8},{"c":"B11","f":0.35,"v":-0.5},{"c":"B11","f":0.4,"v":-1.4},{"c":"B11","f":0.45,"v":-1.2},{"c":"B11","f":0.5,"v":-0.7},{"c":"B11","f":0.55,"v":-0.35},{"c":"B11","f":0.6,"v":-0.1},{"c":"B11","f":0.7,"v":0.08},{"c":"B11","f":0.8,"v":0.14},{"c":"B11","f":1.0,"v":0.02},{"c":"B11","f":1.2,"v":-0.09},{"c":"B11","f":1.4,"v":-0.15},{"c":"B11","f":1.6,"v":-0.22},{"c":"B11","f":1.8,"v":-0.18},{"c":"B11","f":2.0,"v":-0.09},{"c":"B11","f":2.2,"v":-0.04},{"c":"B11","f":2.3,"v":-0.11},{"c":"B11","f":2.4,"v":-0.17},{"c":"B11","f":2.5,"v":-0.27},{"c":"B11","f":2.6,"v":-0.38},
{"c":"B12","f":0.2,"v":4.2},{"c":"B12","f":0.25,"v":3.5},{"c":"B12","f":0.3,"v":2.2},{"c":"B12","f":0.35,"v":0.6},{"c":"B12","f":0.4,"v":-0.8},{"c":"B12","f":0.45,"v":-1.3},{"c":"B12","f":0.5,"v":-0.8},{"c":"B12","f":0.55,"v":-0.4},{"c":"B12","f":0.6,"v":-0.1},{"c":"B12","f":0.7,"v":0.17},{"c":"B12","f":0.8,"v":0.21},{"c":"B12","f":1.0,"v":0.1},{"c":"B12","f":1.2,"v":-0.16},{"c":"B12","f":1.4,"v":-0.42},{"c":"B12","f":1.6,"v":-0.47},{"c":"B12","f":1.8,"v":-0.38},{"c":"B12","f":2.0,"v":-0.25},{"c":"B12","f":2.2,"v":-0.32},{"c":"B12","f":2.3,"v":-0.41},{"c":"B12","f":2.4,"v":-0.53},{"c":"B12","f":2.5,"v":-0.73},{"c":"B12","f":2.6,"v":-0.94},
{"c":"B13","f":0.2,"v":2.3},{"c":"B13","f":0.25,"v":0.6},{"c":"B13","f":0.3,"v":-0.8},{"c":"B13","f":0.35,"v":-1.0},{"c":"B13","f":0.4,"v":-0.7},{"c":"B13","f":0.45,"v":-0.5},{"c":"B13","f":0.5,"v":-0.3},{"c":"B13","f":0.55,"v":-0.1},{"c":"B13","f":0.6,"v":0.0},{"c":"B13","f":0.7,"v":0.36},{"c":"B13","f":0.8,"v":0.36},{"c":"B13","f":1.0,"v":0.28},{"c":"B13","f":1.2,"v":0.11},{"c":"B13","f":1.4,"v":0.01},{"c":"B13","f":1.6,"v":-0.07},{"c":"B13","f":1.8,"v":-0.06},{"c":"B13","f":2.0,"v":0.01},{"c":"B13","f":2.2,"v":0.08},{"c":"B13","f":2.3,"v":0.02},{"c":"B13","f":2.4,"v":-0.01},{"c":"B13","f":2.5,"v":-0.07},{"c":"B13","f":2.6,"v":-0.14},
{"c":"B14","f":0.2,"v":5.5},{"c":"B14","f":0.25,"v":4.0},{"c":"B14","f":0.3,"v":2.0},{"c":"B14","f":0.35,"v":0.2},{"c":"B14","f":0.4,"v":-0.9},{"c":"B14","f":0.45,"v":-1.0},{"c":"B14","f":0.5,"v":-0.6},{"c":"B14","f":0.55,"v":-0.2},{"c":"B14","f":0.6,"v":0.0},{"c":"B14","f":0.7,"v":0.27},{"c":"B14","f":0.8,"v":0.29},{"c":"B14","f":1.0,"v":0.19},{"c":"B14","f":1.2,"v":0.23},{"c":"B14","f":1.4,"v":0.39},{"c":"B14","f":1.6,"v":0.28},{"c":"B14","f":1.8,"v":0.22},{"c":"B14","f":2.0,"v":0.24},{"c":"B14","f":2.2,"v":0.53},{"c":"B14","f":2.3,"v":0.78},{"c":"B14","f":2.4,"v":1.12},{"c":"B14","f":2.5,"v":1.6},{"c":"B14","f":2.6,"v":2.19}
]},
"layer":[
{"mark":{"type":"line","stroke":"black","strokeWidth":1.1,"clip":true,"interpolate":"monotone"},
 "encoding":{
  "x":{"field":"f","type":"quantitative","scale":{"domain":[0.2,2.6],"nice":false,"zero":false},
   "axis":{"orient":"bottom","values":[0.2,0.4,0.6,0.8,1.0,1.2,1.4,1.6,1.8,2.0,2.2,2.4,2.6],"format":".1f","title":"freq, GHz","grid":true,"gridColor":"#c8c8c8","gridWidth":1,"domainColor":"black","tickColor":"black","tickSize":9,"labelFontSize":13,"labelColor":"black","labelPadding":8,"labelFlush":false,"labelOverlap":false,"labelFont":"Liberation Sans","titleFont":"Liberation Sans","titleFontSize":16,"titleFontWeight":"normal","titleColor":"black","titleY":55,"titleBaseline":"middle"}},
  "y":{"field":"v","type":"quantitative","scale":{"domain":[-5,5],"nice":false,"zero":false},
   "axis":{"orient":"left","values":[-5,-4,-3,-2,-1,0,1,2,3,4,5],"labelExpr":"toString(datum.value)","title":"Att1","grid":true,"gridColor":"#c8c8c8","gridWidth":1,"domainColor":"black","tickColor":"black","tickSize":12,"labelFontSize":13,"labelColor":"black","labelPadding":3,"labelFlush":false,"labelOverlap":false,"labelFont":"Liberation Sans","titleFont":"Liberation Sans","titleFontSize":16,"titleFontWeight":"normal","titleColor":"black","titleX":-49,"titleY":146,"titleAngle":-90,"titleAlign":"center","titleBaseline":"middle"}},
  "detail":{"field":"c","type":"nominal"}
 }},
{"mark":{"type":"line","opacity":0,"clip":true},
 "encoding":{
  "x":{"field":"f","type":"quantitative","scale":{"domain":[0.2,2.6],"nice":false,"zero":false},
   "axis":{"orient":"bottom","values":[0.3,0.5,0.7,0.9,1.1,1.3,1.5,1.7,1.9,2.1,2.3,2.5],"labels":false,"title":null,"grid":false,"domain":false,"tickColor":"black","tickSize":5}},
  "y":{"field":"v","type":"quantitative","scale":{"domain":[-5,5],"nice":false,"zero":false},
   "axis":{"orient":"left","values":[-4.5,-3.5,-2.5,-1.5,-0.5,0.5,1.5,2.5,3.5,4.5],"labels":false,"title":null,"grid":false,"domain":false,"tickColor":"black","tickSize":5}},
  "detail":{"field":"c","type":"nominal"}
 }}
],
"resolve":{"axis":{"x":"independent","y":"independent"}}
}
